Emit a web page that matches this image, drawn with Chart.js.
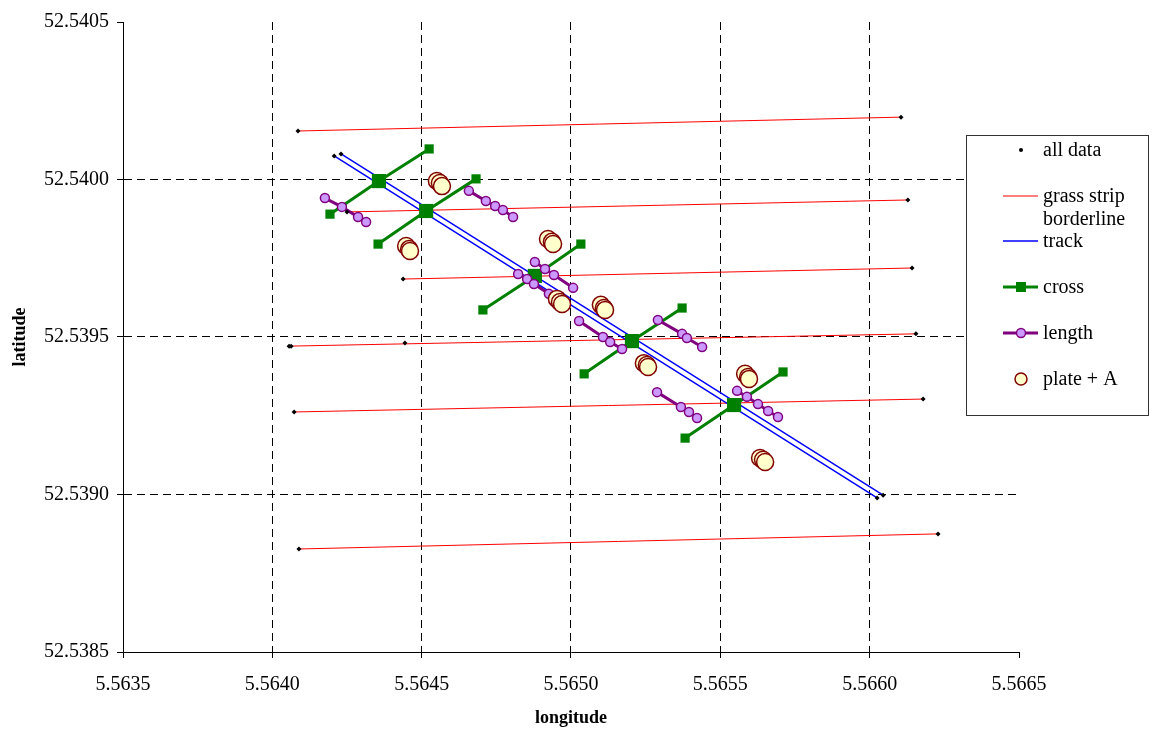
<!DOCTYPE html>
<html>
<head>
<meta charset="utf-8">
<title>grass strip, track, cross and length</title>
<script src="https://cdn.jsdelivr.net/npm/chart.js@4/dist/chart.umd.min.js"></script>
<style>
  body { margin: 0; background: #fff; }
  canvas { display: block; }
</style>
</head>
<body>
<canvas id="fieldChart" width="1153" height="729"></canvas>
<script>
// [longitude, latitude], null = gap between segments
var allData = [
  [5.564086, 52.540154], [5.566105, 52.540198],
  [5.564250, 52.539897], [5.566128, 52.539935],
  [5.564438, 52.539684], [5.566142, 52.539719],
  [5.564056, 52.539471], [5.564063, 52.539471], [5.564444, 52.539481], [5.566155, 52.539510],
  [5.564073, 52.539262], [5.566179, 52.539303],
  [5.564089, 52.538827], [5.566229, 52.538875],
  [5.564207, 52.540075], [5.564230, 52.540081],
  [5.566025, 52.538989], [5.566045, 52.538998]
];

var grassStrip = [
  [5.564086, 52.540154], [5.566105, 52.540198], null,
  [5.564250, 52.539897], [5.566128, 52.539935], null,
  [5.564438, 52.539684], [5.566142, 52.539719], null,
  [5.564056, 52.539471], [5.566155, 52.539510], null,
  [5.564073, 52.539262], [5.566179, 52.539303], null,
  [5.564089, 52.538827], [5.566229, 52.538875]
];

var track = [
  [5.564207, 52.540075], [5.566025, 52.538989], null,
  [5.564230, 52.540081], [5.566045, 52.538998]
];

var cross = [
  [5.564193, 52.539890], [5.564357, 52.539995], [5.564525, 52.540097], null,
  [5.564354, 52.539795], [5.564515, 52.539900], [5.564682, 52.540002], null,
  [5.564705, 52.539586], [5.564879, 52.539694], [5.565033, 52.539795], null,
  [5.565044, 52.539383], [5.565204, 52.539487], [5.565372, 52.539592], null,
  [5.565382, 52.539179], [5.565546, 52.539284], [5.565710, 52.539389]
];

var lengthLine = [
  [5.564176, 52.539941], [5.564233, 52.539913], [5.564287, 52.539881], [5.564314, 52.539865], null,
  [5.564658, 52.539964], [5.564715, 52.539932], [5.564746, 52.539916], [5.564772, 52.539903], [5.564806, 52.539881], null,
  [5.564879, 52.539738], [5.564913, 52.539716], [5.564943, 52.539697], [5.565007, 52.539656], null,
  [5.564823, 52.539700], [5.564853, 52.539684], [5.564876, 52.539668], [5.564926, 52.539637], null,
  [5.565027, 52.539551], [5.565107, 52.539500], [5.565131, 52.539484], [5.565171, 52.539462], null,
  [5.565291, 52.539554], [5.565372, 52.539510], [5.565388, 52.539497], [5.565439, 52.539468], null,
  [5.565288, 52.539325], [5.565368, 52.539278], [5.565395, 52.539262], [5.565422, 52.539243], null,
  [5.565556, 52.539329], [5.565589, 52.539310], [5.565626, 52.539287], [5.565660, 52.539265], [5.565693, 52.539246]
];

var plateA = [
  [5.564551, 52.539995], [5.564561, 52.539989], [5.564568, 52.539979],
  [5.564448, 52.539789], [5.564458, 52.539779], [5.564461, 52.539773],
  [5.564923, 52.539811], [5.564936, 52.539802], [5.564940, 52.539795],
  [5.564953, 52.539621], [5.564963, 52.539611], [5.564970, 52.539605],
  [5.565100, 52.539602], [5.565110, 52.539592], [5.565114, 52.539586],
  [5.565244, 52.539417], [5.565254, 52.539411], [5.565258, 52.539405],
  [5.565583, 52.539383], [5.565593, 52.539373], [5.565596, 52.539367],
  [5.565633, 52.539116], [5.565643, 52.539110], [5.565650, 52.539103]
];

var lonMin = 5.5635, lonMax = 5.5665, lonStep = 0.0005;
var latMin = 52.5385, latMax = 52.5405, latStep = 0.0005;

function toXY(arr) {
  return arr.map(function (p) {
    return p ? { x: p[0], y: p[1] } : { x: null, y: null };
  });
}

var serif = '"Liberation Serif", "Times New Roman", serif';
Chart.defaults.font.family = serif;
Chart.defaults.font.size = 20;
Chart.defaults.color = '#000';

// grid only inside the plot, not on the outer edges
function innerGrid(ctx) {
  var n = ctx.scale.ticks.length;
  return (ctx.index === 0 || ctx.index === n - 1) ? 'rgba(0,0,0,0)' : '#000';
}

// legend with a frame, drawn by hand
var boxLegend = {
  id: 'boxLegend',
  afterDraw: function (chart) {
    var ctx = chart.ctx;
    var rows = [150, 196, 241, 287, 333, 379];
    ctx.save();
    ctx.fillStyle = '#fff';
    ctx.fillRect(966, 135, 182, 280);
    ctx.strokeStyle = '#333';
    ctx.lineWidth = 1;
    ctx.strokeRect(966.5, 135.5, 182, 280);

    chart.data.datasets.forEach(function (ds, i) {
      var y = rows[i];
      var cx = 1021;
      if (ds.showLine) {
        ctx.strokeStyle = ds.borderColor;
        ctx.lineWidth = ds.borderWidth;
        ctx.beginPath();
        ctx.moveTo(1003, y);
        ctx.lineTo(1038, y);
        ctx.stroke();
      }
      if (ds.legendMarker === 'dot') {
        ctx.fillStyle = '#000';
        ctx.beginPath();
        ctx.arc(cx, y, 2, 0, Math.PI * 2);
        ctx.fill();
      } else if (ds.legendMarker === 'square') {
        ctx.fillStyle = ds.pointBackgroundColor;
        ctx.fillRect(cx - 5, y - 5, 10, 10);
      } else if (ds.legendMarker === 'circle') {
        ctx.fillStyle = ds.pointBackgroundColor;
        ctx.strokeStyle = ds.pointBorderColor;
        ctx.lineWidth = ds.pointBorderWidth;
        ctx.beginPath();
        ctx.arc(cx, y, ds.legendRadius, 0, Math.PI * 2);
        ctx.fill();
        ctx.stroke();
      }
      ctx.fillStyle = '#000';
      ctx.font = '20px ' + serif;
      ctx.textBaseline = 'middle';
      ctx.textAlign = 'left';
      [].concat(ds.label).forEach(function (t, k) {
        ctx.fillText(t, 1043, y + 1 + k * 23);
      });
    });
    ctx.restore();
  }
};

var ctx1 = document.getElementById('fieldChart').getContext('2d');
var fieldChart = new Chart(ctx1, {
  type: 'scatter',
  data: {
    datasets: [{
      label: 'all data',
      data: toXY(allData),
      showLine: false,
      pointStyle: 'rectRot',
      pointRadius: 2.5,
      pointBackgroundColor: '#000',
      pointBorderColor: '#000',
      pointBorderWidth: 0,
      legendMarker: 'dot',
      order: 0
    }, {
      label: ['grass strip', 'borderline'],
      data: toXY(grassStrip),
      showLine: true,
      spanGaps: false,
      borderColor: '#FF0000',
      borderWidth: 1,
      pointRadius: 0,
      order: 5
    }, {
      label: 'track',
      data: toXY(track),
      showLine: true,
      spanGaps: false,
      borderColor: '#0000FF',
      borderWidth: 1.5,
      pointRadius: 0,
      order: 4
    }, {
      label: 'cross',
      data: toXY(cross),
      showLine: true,
      spanGaps: false,
      borderColor: '#008000',
      borderWidth: 3,
      pointStyle: 'rect',
      pointRadius: function (c) { return c.dataIndex % 4 === 1 ? 10 : 6.5; },
      pointBackgroundColor: '#008000',
      pointBorderColor: '#008000',
      pointBorderWidth: 0,
      legendMarker: 'square',
      order: 3
    }, {
      label: 'length',
      data: toXY(lengthLine),
      showLine: true,
      spanGaps: false,
      borderColor: '#800080',
      borderWidth: 3,
      pointStyle: 'circle',
      pointRadius: 4.5,
      pointBackgroundColor: '#CC99FF',
      pointBorderColor: '#800080',
      pointBorderWidth: 1.5,
      legendMarker: 'circle',
      legendRadius: 4.5,
      order: 2
    }, {
      label: 'plate + A',
      data: toXY(plateA),
      showLine: false,
      pointStyle: 'circle',
      pointRadius: 8.5,
      pointBackgroundColor: '#FFFFCC',
      pointBorderColor: '#800000',
      pointBorderWidth: 1.5,
      legendMarker: 'circle',
      legendRadius: 6,
      order: 1
    }]
  },
  options: {
    responsive: false,
    animation: false,
    events: [],
    layout: { padding: { left: 0, top: 22, right: 134, bottom: 0 } },
    plugins: {
      legend: { display: false },
      tooltip: { enabled: false }
    },
    scales: {
      x: {
        type: 'linear',
        min: lonMin,
        max: lonMax,
        afterFit: function (s) { s.height = 77; },
        ticks: {
          stepSize: lonStep,
          padding: 15,
          maxRotation: 0,
          callback: function (v) { return v.toFixed(4); }
        },
        grid: {
          color: innerGrid,
          lineWidth: 1,
          tickColor: '#000',
          tickLength: 6,
          tickBorderDash: []
        },
        border: { display: true, color: '#000', width: 1, dash: [8, 5] },
        title: {
          display: true,
          text: 'longitude',
          font: { size: 18, weight: 'bold' },
          padding: { top: 0, bottom: 0 }
        }
      },
      y: {
        type: 'linear',
        min: latMin,
        max: latMax,
        afterFit: function (s) { s.width = 123; },
        ticks: {
          stepSize: latStep,
          padding: 8,
          callback: function (v) { return v.toFixed(4); }
        },
        grid: {
          color: innerGrid,
          lineWidth: 1,
          tickColor: '#000',
          tickLength: 6,
          tickBorderDash: []
        },
        border: { display: true, color: '#000', width: 1, dash: [8, 5] },
        title: {
          display: true,
          text: 'latitude',
          font: { size: 18, weight: 'bold' },
          padding: { top: 10, bottom: 0 }
        }
      }
    }
  },
  plugins: [boxLegend]
});
</script>
</body>
</html>
